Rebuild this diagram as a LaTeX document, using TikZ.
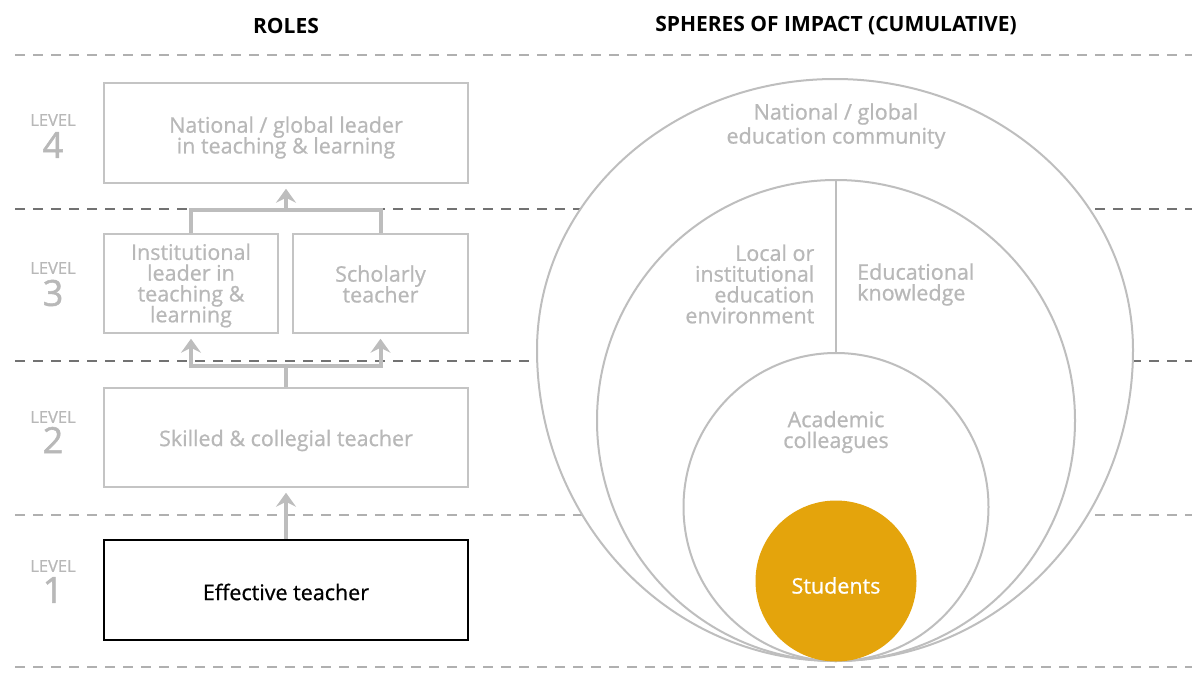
\documentclass[tikz,border=0pt]{standalone}
\usepackage{fontspec}
\setmainfont{Open Sans}
\newfontfamily\bodyfont{Open Sans}[FakeBold=0.8]
\newfontfamily\numfont{Open Sans}[FakeBold=1.5]
\newcommand\tightlines{\lineskiplimit=-30pt\relax}
\usetikzlibrary{arrows.meta,shapes.geometric}
\definecolor{txtgray}{HTML}{B8B8B8}
\definecolor{boxgray}{HTML}{C4C4C4}
\definecolor{conngray}{HTML}{BDBDBD}
\definecolor{ringgray}{HTML}{BEBEBE}
\definecolor{gold}{HTML}{E4A40C}
\definecolor{dashlight}{HTML}{B0B0B0}
\definecolor{dashdark}{HTML}{727272}
\tikzset{
  lbl/.style={font={\bodyfont\fontsize{21.5}{20.8}\selectfont\tightlines}, text=txtgray, align=center},
  rolebox/.style={draw=boxgray, line width=1.5pt, inner sep=0pt},
  head/.style={font=\fontsize{21}{24}\selectfont\bfseries, text=black},
  lvword/.style={font=\bodyfont\fontsize{16.5}{16}\selectfont, text=txtgray},
  lvnum/.style={font=\numfont\fontsize{36}{36}\selectfont, text=txtgray},
  sep/.style={line width=1.3pt, dash pattern=on 10pt off 8pt},
  connline/.style={draw=conngray, line width=4pt},
  conn/.style={connline, -{Stealth[length=14pt,width=20pt,inset=5pt]}, shorten >=5pt},
  ring/.style={ellipse, draw=ringgray, line width=2pt, fill=white, inner sep=0pt},
}
\begin{document}
\begin{tikzpicture}[x=1pt,y=-1pt]
\useasboundingbox (0,0) rectangle (1200,680);
% separators
\draw[sep, dashlight] (15,55) -- (1192,55);
\draw[sep, dashdark] (15,209) -- (1192,209);
\draw[sep, dashdark] (15,361) -- (1192,361);
\draw[sep, dashlight] (15,515) -- (1192,515);
\draw[sep, dashlight] (15,667) -- (1192,667);
% headings
\node[head] (hroles) at (286,26) {ROLES};
\node[head] (hspheres) at (836,26) {SPHERES OF IMPACT (CUMULATIVE)};
% level labels
\node[lvword] (lw4) at (53,120) {LEVEL};
\node[lvnum] (ln4) at (53,145) {4};
\node[lvword] (lw3) at (53,268) {LEVEL};
\node[lvnum] (ln3) at (53,293) {3};
\node[lvword] (lw2) at (53,417) {LEVEL};
\node[lvnum] (ln2) at (53,440) {2};
\node[lvword] (lw1) at (53,566) {LEVEL};
\node[lvnum] (ln1) at (53,590) {1};
% role boxes
\node[rolebox, minimum width=364pt, minimum height=100pt] (L4) at (286,133) {};
\node[rolebox, minimum width=174pt, minimum height=99pt] (L3a) at (191,283.5) {};
\node[rolebox, minimum width=175pt, minimum height=99pt] (L3b) at (380.5,283.5) {};
\node[rolebox, minimum width=364pt, minimum height=99pt] (L2) at (286,437.5) {};
\node[rolebox, draw=black, line width=2pt, minimum width=364pt, minimum height=100pt] (L1) at (286,590) {};
\node[lbl] (t4) at (286,137.5) {National / global leader\\in teaching \& learning};
\node[lbl] (t3a) at (191,285.5) {Institutional\\leader in\\teaching \&\\learning};
\node[lbl] (t3b) at (380.5,284) {Scholarly\\teacher};
\node[lbl] (t2) at (286,440.5) {Skilled \& collegial teacher};
\node[lbl, text=black] (t1) at (286,592) {Effective teacher};
% connectors
\coordinate (j2) at (286,366);
\coordinate (j3) at (286,210);
\draw[conn] (L1.north) -- (L2.south);
\draw[connline] (L2.north) -- (j2);
\draw[conn] (j2) -| (L3a.south);
\draw[conn] (j2) -| (L3b.south);
\draw[connline] (L3a.north) |- (j3);
\draw[connline] (L3b.north) |- (j3);
\draw[conn] (j3) -- (L4.south);
% spheres
\draw[ringgray, line width=2pt, fill=white] (537,350)
  arc[start angle=180, end angle=360, x radius=298, y radius=271]
  arc[start angle=0, end angle=180, x radius=298, y radius=311] -- cycle;
\node[ring, minimum width=478pt, minimum height=481pt] (middle) at (836,420.5) {};
\node[ring, minimum width=305pt, minimum height=308pt] (inner) at (836,507) {};
\draw[ringgray, line width=2pt] (middle.north) -- (inner.north);
\node[ellipse, fill=gold, minimum width=161pt, minimum height=161pt, inner sep=0pt] (students) at (836,581) {};
\node[lbl, font={\bodyfont\fontsize{21.5}{24}\selectfont\tightlines}] (tnat) at (836,126) {National / global\\education community};
\node[lbl, align=right, anchor=east, inner sep=0pt] (tloc) at (814.5,284) {Local or\\institutional\\education\\environment};
\node[lbl, align=left, anchor=west, inner sep=0pt] (tedu) at (857,284.5) {Educational\\knowledge};
\node[lbl] (tacad) at (836,432) {Academic\\colleagues};
\node[lbl, text=white] (tstud) at (836,585.5) {Students};
\end{tikzpicture}
\end{document}
